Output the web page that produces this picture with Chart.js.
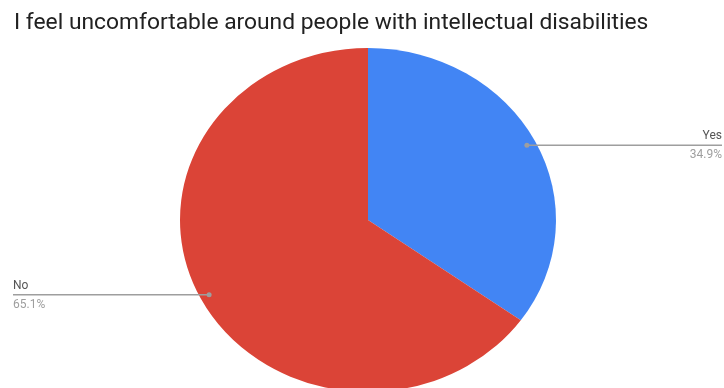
<!DOCTYPE html>
<html>
<head>
<meta charset="utf-8">
<script src="https://cdn.jsdelivr.net/npm/chart.js@4.4.1/dist/chart.umd.min.js"></script>
<style>
    body { margin: 0; background: #fff; }
    #wrap { width: 724px; height: 388px; overflow: hidden; position: relative; }
</style>
</head>
<body>
<div id="wrap">
    <canvas id="Chart1" width="724" height="420"></canvas>
</div>
<script>
const chartTitle = 'I feel uncomfortable around people with intellectual disabilities';
const labels = ['Yes', 'No'];
const values = [34.9, 65.1];
const colors = ['#4285F4', '#DB4437'];

// pie in the picture is a bit wider than tall
const stretchX = 188 / 172;

const ellipsePlugin = {
    id: 'ellipse',
    beforeDatasetsDraw: function (chart) {
        const arc = chart.getDatasetMeta(0).data[0];
        const ctx = chart.ctx;
        ctx.save();
        ctx.translate(arc.x, arc.y);
        ctx.scale(stretchX, 1);
        ctx.translate(-arc.x, -arc.y);
    },
    afterDatasetsDraw: function (chart) {
        chart.ctx.restore();
    }
};

const labelPlugin = {
    id: 'sideLabels',
    afterDraw: function (chart) {
        const ctx = chart.ctx;
        ctx.save();
        // title
        ctx.fillStyle = '#212121';
        ctx.font = '22.8px Roboto';
        ctx.textAlign = 'left';
        ctx.textBaseline = 'alphabetic';
        ctx.fillText(chartTitle, 14, 29);

        chart.getDatasetMeta(0).data.forEach(function (arc, i) {
            const p = arc.getProps(['x', 'y', 'startAngle', 'endAngle', 'outerRadius'], true);
            const mid = (p.startAngle + p.endAngle) / 2;
            const px = p.x + Math.cos(mid) * p.outerRadius * 0.95 * stretchX;
            const py = p.y + Math.sin(mid) * p.outerRadius * 0.95;
            const right = Math.cos(mid) > 0;
            const endX = right ? 722 : 13;

            ctx.strokeStyle = '#9e9e9e';
            ctx.lineWidth = 1.5;
            ctx.beginPath();
            ctx.moveTo(px, py);
            ctx.lineTo(endX, py);
            ctx.stroke();

            ctx.fillStyle = '#9e9e9e';
            ctx.beginPath();
            ctx.arc(px, py, 2.5, 0, Math.PI * 2);
            ctx.fill();

            ctx.textAlign = right ? 'right' : 'left';
            ctx.font = '12px Roboto';
            ctx.fillStyle = '#555';
            ctx.fillText(labels[i], endX, py - 6);
            ctx.fillStyle = '#9e9e9e';
            ctx.fillText(values[i].toFixed(1) + '%', endX, py + 13);
        });
        ctx.restore();
    }
};

const pieChart = new Chart(document.getElementById('Chart1').getContext('2d'), {
    type: 'pie',
    data: {
        labels: labels,
        datasets: [{
            data: values,
            backgroundColor: colors,
            borderWidth: 0
        }]
    },
    options: {
        responsive: false,
        animation: false,
        devicePixelRatio: 1,
        layout: {
            padding: {top: 48, bottom: 28, left: 196, right: 184}
        },
        plugins: {
            legend: {display: false},
            tooltip: {enabled: false}
        }
    },
    plugins: [ellipsePlugin, labelPlugin]
});
</script>
</body>
</html>
